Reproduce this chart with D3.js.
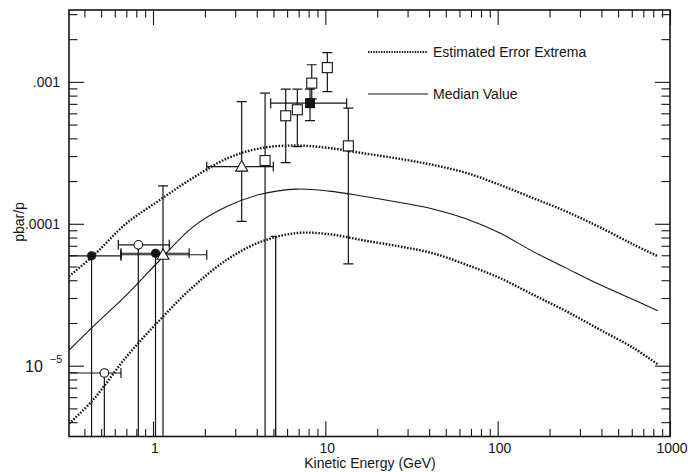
<!DOCTYPE html>
<html>
<head>
<meta charset="utf-8">
<script src="https://cdn.jsdelivr.net/npm/d3@7"></script>
<style>
  body { margin: 0; background: #fff; }
  svg { display: block; font-family: "Liberation Sans", Arial, Helvetica, sans-serif; }
</style>
</head>
<body>
<svg id="chart" width="688" height="472"></svg>
<script>
// model curves (kinetic energy in GeV vs pbar/p)
var energyGrid   = [0.3255, 0.45, 0.7, 1.1, 1.7, 2.7, 4.2, 6.8, 10.5, 16.6, 27, 42, 66, 103, 160, 250, 390, 610, 850];
var upperExtrema = [4.27e-5, 5.95e-5, 1.005e-4, 1.476e-4, 2.10e-4, 2.89e-4, 3.41e-4, 3.56e-4, 3.42e-4, 3.14e-4, 2.87e-4, 2.60e-4, 2.28e-4, 1.88e-4, 1.52e-4, 1.22e-4, 9.48e-5, 7.17e-5, 5.90e-5];
var medianValue  = [1.285e-5, 1.891e-5, 3.14e-5, 5.58e-5, 9.48e-5, 1.328e-4, 1.613e-4, 1.756e-4, 1.70e-4, 1.565e-4, 1.413e-4, 1.271e-4, 1.081e-4, 8.61e-5, 6.39e-5, 4.87e-5, 3.73e-5, 2.93e-5, 2.44e-5];
var lowerExtrema = [3.90e-6, 5.76e-6, 1.153e-5, 2.11e-5, 3.58e-5, 5.61e-5, 7.45e-5, 8.60e-5, 8.45e-5, 7.65e-5, 6.92e-5, 6.20e-5, 5.14e-5, 4.15e-5, 3.17e-5, 2.42e-5, 1.80e-5, 1.339e-5, 1.021e-5];

// measurements: e, v, energy range (eLo/eHi), value range (vLo/vHi); 1e-7 = runs off the bottom
var filledCircles = [
  { e: 0.44,  v: 5.95e-5, eLo: 0.25,  eHi: 0.652, vLo: 1e-7, vHi: null },
  { e: 1.034, v: 6.2e-5,  eLo: 0.652, eHi: 1.62,  vLo: 1e-7, vHi: null }
];
var openCircles = [
  { e: 0.822, v: 7.11e-5, eLo: 0.629, eHi: 1.243, vLo: 1e-7, vHi: null },
  { e: 0.522, v: 8.88e-6, eLo: 0.25,  eHi: 0.652, vLo: 1e-7, vHi: null }
];
var openTriangles = [
  { e: 1.143, v: 6.05e-5, eLo: 0.652, eHi: 2.05, vLo: 1e-7,    vHi: 1.852e-4 },
  { e: 3.27,  v: 2.53e-4, eLo: 2.05,  eHi: 4.99, vLo: 1.04e-4, vHi: 7.26e-4 }
];
var openSquares = [
  { e: 4.47,  v: 2.79e-4, vLo: 1e-7,    vHi: 8.32e-4 },
  { e: 5.89,  v: 5.77e-4, vLo: 2.70e-4, vHi: 8.89e-4 },
  { e: 6.88,  v: 6.36e-4, vLo: 3.5e-4,  vHi: 8.89e-4 },
  { e: 8.34,  v: 9.8e-4,  vLo: 7.6e-4,  vHi: 1.32e-3 },
  { e: 10.27, v: 1.26e-3, vLo: 8.55e-4, vHi: 1.61e-3 },
  { e: 13.6,  v: 3.54e-4, vLo: 5.22e-5, vHi: 6.53e-4 }
];
var filledSquares = [
  { e: 8.15, v: 7.08e-4, eLo: 4.82, eHi: 13.3, vLo: 5.34e-4, vHi: 8.9e-4 }
];
var upperLimits = [
  { e: 5.15, v: 8.15e-5 }
];

var xMajor = [1, 10, 100, 1000];
var yMajor = [1e-3, 1e-4, 1e-5];
var legendItems = [
  { label: "Estimated Error Extrema", dotted: true },
  { label: "Median Value", dotted: false }
];

var plotL = 69, plotR = 670, plotT = 10, plotB = 436.5;
var ink = "#151515";

var x = d3.scaleLog().domain([0.3255, 1000]).range([plotL, plotR]);
var y = d3.scaleLog().domain([3.17e-6, 3.21e-3]).range([plotB, plotT]);

var svg = d3.select("#chart");

svg.append("defs").append("clipPath").attr("id", "plot")
  .append("rect").attr("x", plotL).attr("y", plotT).attr("width", plotR - plotL).attr("height", plotB - plotT);

// minor tick positions 2..9 per decade
function minors(lo, hi) {
  var out = [];
  for (var p = Math.floor(Math.log10(lo)); p <= Math.ceil(Math.log10(hi)); p++) {
    for (var k = 2; k <= 9; k++) {
      var t = k * Math.pow(10, p);
      if (t > lo && t < hi) out.push(t);
    }
  }
  return out;
}
var xMinor = minors(0.3255, 1000);
var yMinor = minors(3.17e-6, 3.21e-3);

function tickAxis(gen, scale, values, size, tr) {
  var g = svg.append("g").attr("transform", tr)
    .call(gen(scale).tickValues(values).tickSize(size).tickFormat(""));
  g.select(".domain").remove();
  g.selectAll("line").attr("stroke", ink).attr("stroke-width", 1.1);
}
// ticks on all four sides pointing inward
tickAxis(d3.axisBottom, x, xMajor, -15, "translate(0," + plotB + ")");
tickAxis(d3.axisBottom, x, xMinor, -7.5, "translate(0," + plotB + ")");
tickAxis(d3.axisTop, x, xMajor, -15, "translate(0," + plotT + ")");
tickAxis(d3.axisTop, x, xMinor, -7.5, "translate(0," + plotT + ")");
tickAxis(d3.axisLeft, y, yMajor, -15, "translate(" + plotL + ",0)");
tickAxis(d3.axisLeft, y, yMinor, -8.5, "translate(" + plotL + ",0)");
tickAxis(d3.axisRight, y, yMajor, -15, "translate(" + plotR + ",0)");
tickAxis(d3.axisRight, y, yMinor, -8.5, "translate(" + plotR + ",0)");

svg.append("rect").attr("x", plotL).attr("y", plotT).attr("width", plotR - plotL).attr("height", plotB - plotT)
  .attr("fill", "none").attr("stroke", ink).attr("stroke-width", 1.6);

// tick labels
svg.selectAll(".xl").data(xMajor).enter().append("text")
  .attr("x", function (d) { return x(d) + 2; }).attr("y", 453)
  .attr("text-anchor", "middle").style("font-size", "14px").attr("fill", ink)
  .text(function (d) { return d; });

svg.append("text").attr("x", 60).attr("y", y(1e-3) + 5).attr("text-anchor", "end")
  .style("font-size", "14px").attr("fill", ink).text(".001");
svg.append("text").attr("x", 60).attr("y", y(1e-4) + 5).attr("text-anchor", "end")
  .style("font-size", "14px").attr("fill", ink).text(".0001");
var ten = svg.append("text").attr("x", 25).attr("y", y(1e-5) + 6).attr("fill", ink).style("font-size", "16px");
ten.append("tspan").text("10");
ten.append("tspan").attr("dx", 7).attr("dy", -9).style("font-size", "11px").text("\u22125");

// axis titles
svg.append("text").attr("x", 370).attr("y", 468).attr("text-anchor", "middle")
  .style("font-size", "14px").attr("fill", ink).text("Kinetic Energy (GeV)");
svg.append("text").attr("transform", "translate(24,222) rotate(-90)").attr("text-anchor", "middle")
  .style("font-size", "14px").attr("fill", ink).text("pbar/p");

var plot = svg.append("g").attr("clip-path", "url(#plot)");

// curves
var line = d3.line()
  .x(function (d) { return x(d[0]); })
  .y(function (d) { return y(d[1]); })
  .curve(d3.curveCatmullRom.alpha(0.5));

function curve(values, dotted) {
  var pts = energyGrid.map(function (e, i) { return [e, values[i]]; });
  var p = plot.append("path").datum(pts).attr("d", line).attr("fill", "none").attr("stroke", ink);
  if (dotted) p.attr("stroke-width", 2.4).attr("stroke-dasharray", "1.6,1.5");
  else p.attr("stroke-width", 1.1);
}
curve(upperExtrema, true);
curve(medianValue, false);
curve(lowerExtrema, true);

// error bars
var cap = 5;
function errorBars(data) {
  data.forEach(function (d) {
    var cx = x(d.e), cy = y(d.v);
    if (d.vLo != null) {
      plot.append("line").attr("x1", cx).attr("x2", cx).attr("y1", cy).attr("y2", y(d.vLo))
        .attr("stroke", ink).attr("stroke-width", 1.2);
      if (d.vLo > 3.17e-6)
        plot.append("line").attr("x1", cx - cap).attr("x2", cx + cap).attr("y1", y(d.vLo)).attr("y2", y(d.vLo))
          .attr("stroke", ink).attr("stroke-width", 1.2);
    }
    if (d.vHi != null) {
      plot.append("line").attr("x1", cx).attr("x2", cx).attr("y1", cy).attr("y2", y(d.vHi))
        .attr("stroke", ink).attr("stroke-width", 1.2);
      plot.append("line").attr("x1", cx - cap).attr("x2", cx + cap).attr("y1", y(d.vHi)).attr("y2", y(d.vHi))
        .attr("stroke", ink).attr("stroke-width", 1.2);
    }
    if (d.eLo != null) {
      plot.append("line").attr("x1", x(d.eLo)).attr("x2", x(d.eHi)).attr("y1", cy).attr("y2", cy)
        .attr("stroke", ink).attr("stroke-width", 1.2);
      [d.eLo, d.eHi].forEach(function (e) {
        if (e > 0.3255)
          plot.append("line").attr("x1", x(e)).attr("x2", x(e)).attr("y1", cy - cap).attr("y2", cy + cap)
            .attr("stroke", ink).attr("stroke-width", 1.2);
      });
    }
  });
}
[filledCircles, openCircles, openTriangles, openSquares, filledSquares].forEach(errorBars);

upperLimits.forEach(function (d) {
  plot.append("line").attr("x1", x(d.e)).attr("x2", x(d.e)).attr("y1", y(d.v)).attr("y2", plotB + 5)
    .attr("stroke", ink).attr("stroke-width", 1.3);
  plot.append("line").attr("x1", x(d.e) - cap).attr("x2", x(d.e)).attr("y1", y(d.v)).attr("y2", y(d.v))
    .attr("stroke", ink).attr("stroke-width", 1.3);
});

// markers
plot.selectAll(".fc").data(filledCircles).enter().append("circle")
  .attr("cx", function (d) { return x(d.e); }).attr("cy", function (d) { return y(d.v); })
  .attr("r", 4.6).attr("fill", ink);
plot.selectAll(".oc").data(openCircles).enter().append("circle")
  .attr("cx", function (d) { return x(d.e); }).attr("cy", function (d) { return y(d.v); })
  .attr("r", 4.3).attr("fill", "#fff").attr("stroke", ink).attr("stroke-width", 1.1);
plot.selectAll(".ot").data(openTriangles).enter().append("path")
  .attr("transform", function (d) { return "translate(" + x(d.e) + "," + y(d.v) + ")"; })
  .attr("d", "M0,-6L6,4.5L-6,4.5Z")
  .attr("fill", "#fff").attr("stroke", ink).attr("stroke-width", 1.1);
plot.selectAll(".os").data(openSquares).enter().append("rect")
  .attr("x", function (d) { return x(d.e) - 5; }).attr("y", function (d) { return y(d.v) - 5; })
  .attr("width", 10).attr("height", 10)
  .attr("fill", "#fff").attr("stroke", ink).attr("stroke-width", 1.1);
plot.selectAll(".fs").data(filledSquares).enter().append("rect")
  .attr("x", function (d) { return x(d.e) - 5; }).attr("y", function (d) { return y(d.v) - 5; })
  .attr("width", 10).attr("height", 10).attr("fill", ink);

// legend
var lg = svg.append("g");
legendItems.forEach(function (d, i) {
  var ly = 52 + i * 42;
  var l = lg.append("line").attr("x1", 368).attr("x2", 428).attr("y1", ly).attr("y2", ly).attr("stroke", ink);
  if (d.dotted) l.attr("stroke-width", 2.2).attr("stroke-dasharray", "1.4,1.2");
  else l.attr("stroke-width", 1.1);
  lg.append("text").attr("x", 433).attr("y", ly + 5).style("font-size", "14px").attr("fill", ink).text(d.label);
});
</script>
</body>
</html>
